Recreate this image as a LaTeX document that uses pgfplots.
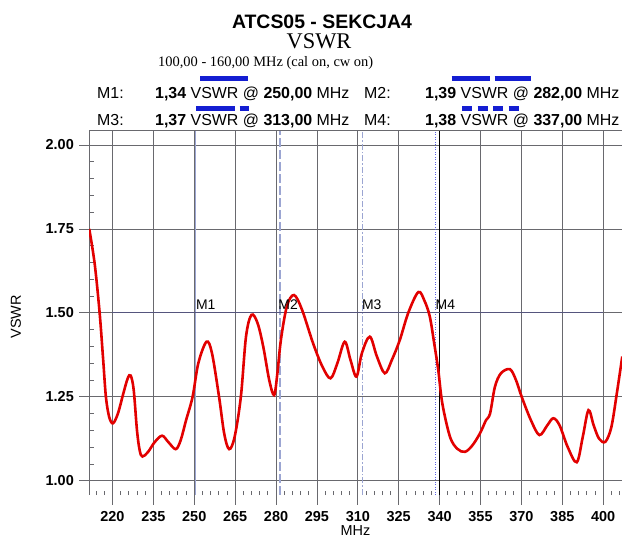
\documentclass[border=0pt]{standalone}
\usepackage{pgfplots}
\pgfplotsset{compat=1.18}
\usepackage{fontspec}
\setmainfont{Liberation Sans}
\newfontfamily\serif{Liberation Serif}
\definecolor{curve}{RGB}{226,0,0}
\definecolor{mblue}{RGB}{20,30,210}
\definecolor{gridc}{RGB}{105,105,110}
\definecolor{gridl}{RGB}{175,175,180}
\definecolor{limit}{RGB}{85,85,125}
\definecolor{mk}{RGB}{155,165,210}
\newcommand{\fs}[1]{\fontsize{#1}{#1}\selectfont}
\begin{document}
\begin{tikzpicture}
\useasboundingbox (0,0) rectangle (622bp,537bp);
\begin{axis}[
  at={(89bp,42bp)}, anchor=south west,
  scale only axis, width=533bp, height=364.3bp,
  xmin=211.4, xmax=406.9, ymin=0.9574, ymax=2.0426,
  axis line style={draw=none},
  clip=true,
  xtick={220,235,250,265,280,295,310,325,340,355,370,385},
  xticklabels={220,235,250,265,280,295,310,325,340,355,370,385},
  extra x ticks={400}, extra x tick labels={400},
  extra x tick style={grid style={gridl, line width=0.8bp}},
  ytick={1,1.75,2}, yticklabels={1.00,1.75,2.00},
  extra y ticks={1.25,1.5}, extra y tick labels={1.25,1.50},
  extra y tick style={grid style={gridl, line width=0.8bp}},
  minor xtick={214,217,...,406},
  minor ytick={1.05,1.1,...,1.96},
  xmajorgrids, ymajorgrids,
  major grid style={gridc, line width=0.8bp},
  tick align=inside,
  xtick pos=left, ytick pos=left,
  major tick length=-10bp, minor tick length=4.5bp,
  tick style={gridc, line width=0.8bp},
  tick label style={font=\bfseries\fs{14.5}, inner sep=0pt},
  xticklabel style={anchor=north, yshift=-16.7bp},
  yticklabel style={anchor=east, xshift=-15bp},
  xlabel={MHz}, ylabel={VSWR},
  label style={font=\fs{14.5}},
  xlabel style={at={(axis description cs:0.5,-0.1098)}, anchor=base, inner sep=0pt},
  ylabel style={at={(axis description cs:-0.137,0.489)}, anchor=center, inner sep=0pt},
]
% marker lines
\draw[mk, line width=1.2bp] (axis cs:250.6,0.9574) -- (axis cs:250.6,2.0426);
\draw[mk, line width=1.5bp, dash pattern=on 9bp off 3bp] (axis cs:281.4,0.9574) -- (axis cs:281.4,2.0426);
\draw[mk, line width=1.2bp, dash pattern=on 6bp off 2bp on 1.5bp off 2bp] (axis cs:311.8,0.9574) -- (axis cs:311.8,2.0426);
\draw[mk!60!blue, line width=0.7bp, dash pattern=on 1bp off 1.5bp] (axis cs:338.5,0.9574) -- (axis cs:338.5,2.0426);
\draw[black, line width=1bp] (axis cs:340,0.9574) -- (axis cs:340,2.0426);
% frame
\draw[gridc, line width=0.9bp] (rel axis cs:1,1) -- (rel axis cs:0,1) -- (rel axis cs:0,0);
\draw[black!80, line width=0.9bp] (rel axis cs:0,0) -- (rel axis cs:1,0);
% limit line
\addplot[limit, line width=1.1bp] coordinates {(220,1.5) (400,1.5)};
% VSWR trace
\addplot[curve, line width=2.6bp, smooth, tension=0.55] coordinates {
(211.5,1.75) (213.5,1.645) (215.3,1.50) (216.6,1.36) (217.6,1.25) (218.8,1.19)
(220.2,1.171) (222.0,1.20) (224.0,1.26) (225.6,1.305) (226.7,1.313) (227.8,1.27)
(229.0,1.15) (230.0,1.09) (231.0,1.072) (233.0,1.085) (235.5,1.115) (238.2,1.134)
(240.5,1.115) (243.2,1.094) (245.0,1.12) (247.0,1.18) (249.4,1.25) (251.5,1.35)
(254.5,1.414) (256.5,1.38) (259.1,1.25) (261.0,1.14) (262.8,1.094) (264.8,1.13)
(267.1,1.25) (269.0,1.43) (271.0,1.494) (273.2,1.47) (275.3,1.40) (277.5,1.30)
(279.3,1.255) (280.5,1.32) (281.8,1.42) (284.0,1.52) (286.6,1.553) (289.5,1.51)
(293.6,1.409) (297.0,1.34) (300.0,1.305) (302.5,1.35) (305.2,1.414) (307.3,1.36)
(309.5,1.31) (311.5,1.38) (314.4,1.429) (317.0,1.37) (319.9,1.32) (322.5,1.36)
(325.4,1.419) (328.5,1.50) (332.2,1.562) (334.5,1.535) (336.4,1.489) (338.0,1.41)
(339.5,1.33) (341.0,1.23) (343.8,1.131) (346.5,1.095) (349.3,1.086) (352.0,1.105)
(354.8,1.141) (357.0,1.18) (358.5,1.20) (360.3,1.28) (362.5,1.32) (365.8,1.332)
(368.0,1.30) (370.1,1.25) (373.5,1.18) (376.6,1.136) (379.5,1.165) (381.7,1.186)
(384.0,1.165) (387.0,1.10) (390.3,1.055) (392.5,1.13) (394.6,1.21) (396.5,1.165)
(398.5,1.125) (400.8,1.116) (403.0,1.16) (405.0,1.26) (407.0,1.37)
};
% marker labels
\node[anchor=base west, inner sep=0pt, font=\fs{14}, yshift=3.4bp] at (axis cs:250.6,1.5) {M1};
\node[anchor=base west, inner sep=0pt, font=\fs{14}, yshift=3.4bp] at (axis cs:280.8,1.5) {M2};
\node[anchor=base west, inner sep=0pt, font=\fs{14}, yshift=3.4bp] at (axis cs:311.5,1.5) {M3};
\node[anchor=base west, inner sep=0pt, font=\fs{14}, yshift=3.4bp] at (axis cs:338.5,1.5) {M4};
\end{axis}
% titles
\node[anchor=base, inner sep=0pt, font=\bfseries\fs{19.5}] at (322bp,508.5bp) {ATCS05 - SEKCJA4};
\node[anchor=base, inner sep=0pt, font=\serif\fs{22.5}] at (319bp,488.7bp) {VSWR};
\node[anchor=base west, inner sep=0pt, font=\serif\fs{14.5}] at (158bp,470.5bp) {100,00 - 160,00 MHz (cal on, cw on)};
% marker readouts
\node[anchor=base west, inner sep=0pt, font=\fs{16}] at (97bp,438.7bp) {M1:};
\node[anchor=base west, inner sep=0pt, font=\fs{16}] at (155bp,438.7bp) {\textbf{1,34} VSWR @ \textbf{250,00} MHz};
\node[anchor=base west, inner sep=0pt, font=\fs{16}] at (364bp,438.7bp) {M2:};
\node[anchor=base west, inner sep=0pt, font=\fs{16}] at (425bp,438.7bp) {\textbf{1,39} VSWR @ \textbf{282,00} MHz};
\node[anchor=base west, inner sep=0pt, font=\fs{16}] at (97bp,411bp) {M3:};
\node[anchor=base west, inner sep=0pt, font=\fs{16}] at (155bp,411bp) {\textbf{1,37} VSWR @ \textbf{313,00} MHz};
\node[anchor=base west, inner sep=0pt, font=\fs{16}] at (364bp,411bp) {M4:};
\node[anchor=base west, inner sep=0pt, font=\fs{16}] at (425bp,411bp) {\textbf{1,38} VSWR @ \textbf{337,00} MHz};
% line style samples
\draw[mblue, line width=4.5bp] (200bp,458.5bp) -- (248bp,458.5bp);
\draw[mblue, line width=4.5bp] (451.5bp,458.5bp) -- (489.5bp,458.5bp);
\draw[mblue, line width=4.5bp] (494.5bp,458.5bp) -- (531bp,458.5bp);
\draw[mblue, line width=4.5bp] (196bp,428.5bp) -- (235bp,428.5bp);
\draw[mblue, line width=4.5bp] (239.5bp,428.5bp) -- (249bp,428.5bp);
\draw[mblue, line width=4.5bp] (462bp,428.5bp) -- (472bp,428.5bp);
\draw[mblue, line width=4.5bp] (477.5bp,428.5bp) -- (487.5bp,428.5bp);
\draw[mblue, line width=4.5bp] (493bp,428.5bp) -- (503bp,428.5bp);
\draw[mblue, line width=4.5bp] (508.5bp,428.5bp) -- (518.5bp,428.5bp);
\end{tikzpicture}
\end{document}
